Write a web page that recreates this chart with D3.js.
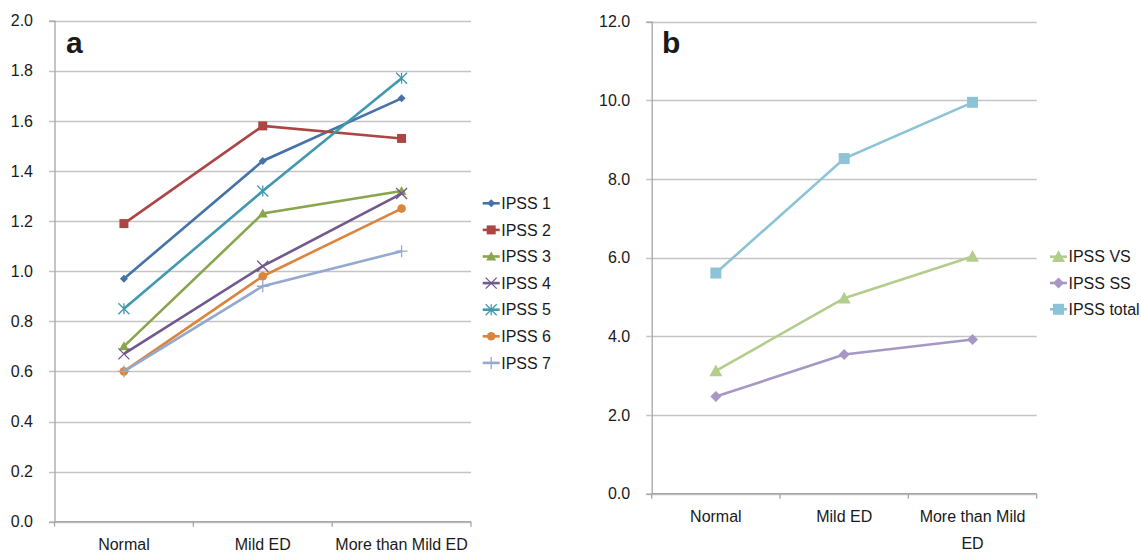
<!DOCTYPE html>
<html>
<head>
<meta charset="utf-8">
<title>IPSS by ED severity</title>
<script src="https://cdn.jsdelivr.net/npm/d3@7"></script>
<style>
  body { margin: 0; background: #fff; }
  text { font-family: "Liberation Sans", Arial, sans-serif; fill: #1a1a1a; }
</style>
</head>
<body>
<script>
// Chart data
var categories = ["Normal", "Mild ED", "More than Mild ED"];

// Panel a: mean IPSS item scores
var namesA = ["IPSS 1", "IPSS 2", "IPSS 3", "IPSS 4", "IPSS 5", "IPSS 6", "IPSS 7"];
var ipss1 = [0.97, 1.44, 1.69];
var ipss2 = [1.19, 1.58, 1.53];
var ipss3 = [0.70, 1.23, 1.32];
var ipss4 = [0.67, 1.02, 1.31];
var ipss5 = [0.85, 1.32, 1.77];
var ipss6 = [0.60, 0.98, 1.25];
var ipss7 = [0.60, 0.94, 1.08];
var ticksA = [0, 0.2, 0.4, 0.6, 0.8, 1.0, 1.2, 1.4, 1.6, 1.8, 2.0];

// Panel b: subscores and total
var namesB = ["IPSS VS", "IPSS SS", "IPSS total"];
var ipssVS = [3.12, 4.97, 6.03];
var ipssSS = [2.47, 3.54, 3.92];
var ipssTotal = [5.61, 8.52, 9.95];
var ticksB = [0, 2, 4, 6, 8, 10, 12];

window.onload = function() {
  var svg = d3.select("body").append("svg").attr("width", 1141).attr("height", 552);

  // Panel a
  drawPanel(svg, {
    x0: 54.5, x1: 471, yTop: 20.7, yBottom: 521.7, max: 2.0,
    ticks: ticksA, xPad: 16.5, label: "a", labelX: 66, labelY: 53,
    wrap: false,
    series: [
      { name: namesA[0], values: ipss1, color: "#4572A7", marker: "diamond", s: 4 },
      { name: namesA[1], values: ipss2, color: "#AA4643", marker: "square", s: 4.5 },
      { name: namesA[2], values: ipss3, color: "#89A54E", marker: "triangle", s: 5 },
      { name: namesA[3], values: ipss4, color: "#71588F", marker: "cross", s: 5.5 },
      { name: namesA[4], values: ipss5, color: "#4198AF", marker: "star", s: 5.5 },
      { name: namesA[5], values: ipss6, color: "#DB843D", marker: "circle", s: 4.3 },
      { name: namesA[6], values: ipss7, color: "#93A9CF", marker: "plus", s: 6 }
    ],
    legendX: 482.7, legendY: 203.3, legendStep: 26.6
  });

  // Panel b
  drawPanel(svg, {
    x0: 651.7, x1: 1036.7, yTop: 21.7, yBottom: 493.7, max: 12,
    ticks: ticksB, xPad: 17, label: "b", labelX: 662, labelY: 53,
    wrap: true,
    series: [
      { name: namesB[0], values: ipssVS, color: "#B3CE8C", marker: "triangle", s: 6.5 },
      { name: namesB[1], values: ipssSS, color: "#A797C4", marker: "diamond", s: 5.5 },
      { name: namesB[2], values: ipssTotal, color: "#8DC3D7", marker: "square", s: 5.5 }
    ],
    legendX: 1050, legendY: 256.7, legendStep: 26.3
  });
};

// Returns a path for a marker shape of half-size s
function markerPath(type, s) {
  if (type == "diamond") return "M0," + (-s) + "L" + s + ",0L0," + s + "L" + (-s) + ",0Z";
  if (type == "square") return "M" + (-s) + "," + (-s) + "H" + s + "V" + s + "H" + (-s) + "Z";
  if (type == "triangle") return "M0," + (-s) + "L" + s + "," + (s * 0.8) + "L" + (-s) + "," + (s * 0.8) + "Z";
  if (type == "cross") return "M" + (-s) + "," + (-s) + "L" + s + "," + s + "M" + (-s) + "," + s + "L" + s + "," + (-s);
  if (type == "star") return "M" + (-s) + "," + (-s) + "L" + s + "," + s + "M" + (-s) + "," + s + "L" + s + "," + (-s) + "M0," + (-s) + "L0," + s;
  if (type == "plus") return "M" + (-s) + ",0L" + s + ",0M0," + (-s) + "L0," + s;
  return null;
}

// Draws one marker at the given position
function drawMarker(g, d, cx, cy) {
  if (d.marker == "circle") {
    g.append("circle").attr("cx", cx).attr("cy", cy).attr("r", d.s).attr("fill", d.color);
    return;
  }
  var open = (d.marker == "cross" || d.marker == "star" || d.marker == "plus");
  g.append("path")
    .attr("d", markerPath(d.marker, d.s))
    .attr("transform", "translate(" + cx + "," + cy + ")")
    .attr("fill", open ? "none" : d.color)
    .attr("stroke", d.color)
    .attr("stroke-width", open ? 1.3 : 0);
}

function drawPanel(svg, p) {
  var g = svg.append("g");

  // Scales
  var x = d3.scaleBand().domain(categories).range([p.x0, p.x1]);
  var y = d3.scaleLinear().domain([0, p.max]).range([p.yBottom, p.yTop]);
  var fmt = d3.format(".1f");

  // Gridlines
  g.selectAll(".grid").data(p.ticks).enter().append("line")
    .attr("x1", p.x0 - 5.5).attr("x2", p.x1)
    .attr("y1", function(d) { return Math.round(y(d)) + 0.5; })
    .attr("y2", function(d) { return Math.round(y(d)) + 0.5; })
    .attr("stroke", "#c4c4c4").attr("stroke-width", 1.3);

  // Y axis
  var yAxis = d3.axisLeft(y).tickValues(p.ticks).tickFormat(fmt)
                .tickSize(5.5).tickPadding(16);
  var ya = g.append("g").attr("transform", "translate(" + p.x0 + ",0)").call(yAxis);
  ya.select(".domain").attr("stroke", "#a6a6a6").attr("stroke-width", 1.3);
  ya.selectAll(".tick line").remove();
  ya.selectAll(".tick text").style("font-size", "16px").attr("fill", "#1a1a1a");

  // X axis line and category boundary ticks
  g.append("line").attr("x1", p.x0).attr("x2", p.x1)
    .attr("y1", p.yBottom).attr("y2", p.yBottom)
    .attr("stroke", "#a6a6a6").attr("stroke-width", 1.3);
  g.selectAll(".xtick").data(d3.range(categories.length + 1)).enter().append("line")
    .attr("x1", function(i) { return p.x0 + i * x.step(); })
    .attr("x2", function(i) { return p.x0 + i * x.step(); })
    .attr("y1", p.yBottom).attr("y2", p.yBottom + 5)
    .attr("stroke", "#a6a6a6").attr("stroke-width", 1.3);

  // Category labels
  var xAxis = d3.axisBottom(x).tickSize(0).tickPadding(p.xPad);
  var xa = g.append("g").attr("transform", "translate(0," + p.yBottom + ")").call(xAxis);
  xa.select(".domain").remove();
  xa.selectAll(".tick text").style("font-size", "16px").attr("fill", "#1a1a1a");
  if (p.wrap) {
    xa.selectAll(".tick text").each(function(d) {
      if (d == "More than Mild ED") {
        var t = d3.select(this).text(null);
        t.append("tspan").attr("x", 0).attr("dy", "0.71em").text("More than Mild");
        t.append("tspan").attr("x", 0).attr("dy", "1.7em").text("ED");
        t.attr("dy", null);
      }
    });
  }

  // Lines and markers
  var line = d3.line()
    .x(function(d, i) { return x(categories[i]) + x.bandwidth() / 2; })
    .y(function(d) { return y(d); });
  p.series.forEach(function(s) {
    g.append("path").datum(s.values).attr("d", line)
      .attr("fill", "none").attr("stroke", s.color).attr("stroke-width", 2.6);
    s.values.forEach(function(v, i) {
      drawMarker(g, s, x(categories[i]) + x.bandwidth() / 2, y(v));
    });
  });

  // Legend
  p.series.forEach(function(s, i) {
    var ly = p.legendY + i * p.legendStep;
    g.append("line").attr("x1", p.legendX).attr("x2", p.legendX + 17)
      .attr("y1", ly).attr("y2", ly)
      .attr("stroke", s.color).attr("stroke-width", 2.6);
    drawMarker(g, s, p.legendX + 8.5, ly);
    g.append("text").attr("x", p.legendX + 18.5).attr("y", ly)
      .attr("dy", "0.36em").style("font-size", "16px").text(s.name);
  });

  // Panel letter
  g.append("text").attr("x", p.labelX).attr("y", p.labelY)
    .style("font-size", "30px").style("font-weight", "bold").text(p.label);
}
</script>
</body>
</html>
